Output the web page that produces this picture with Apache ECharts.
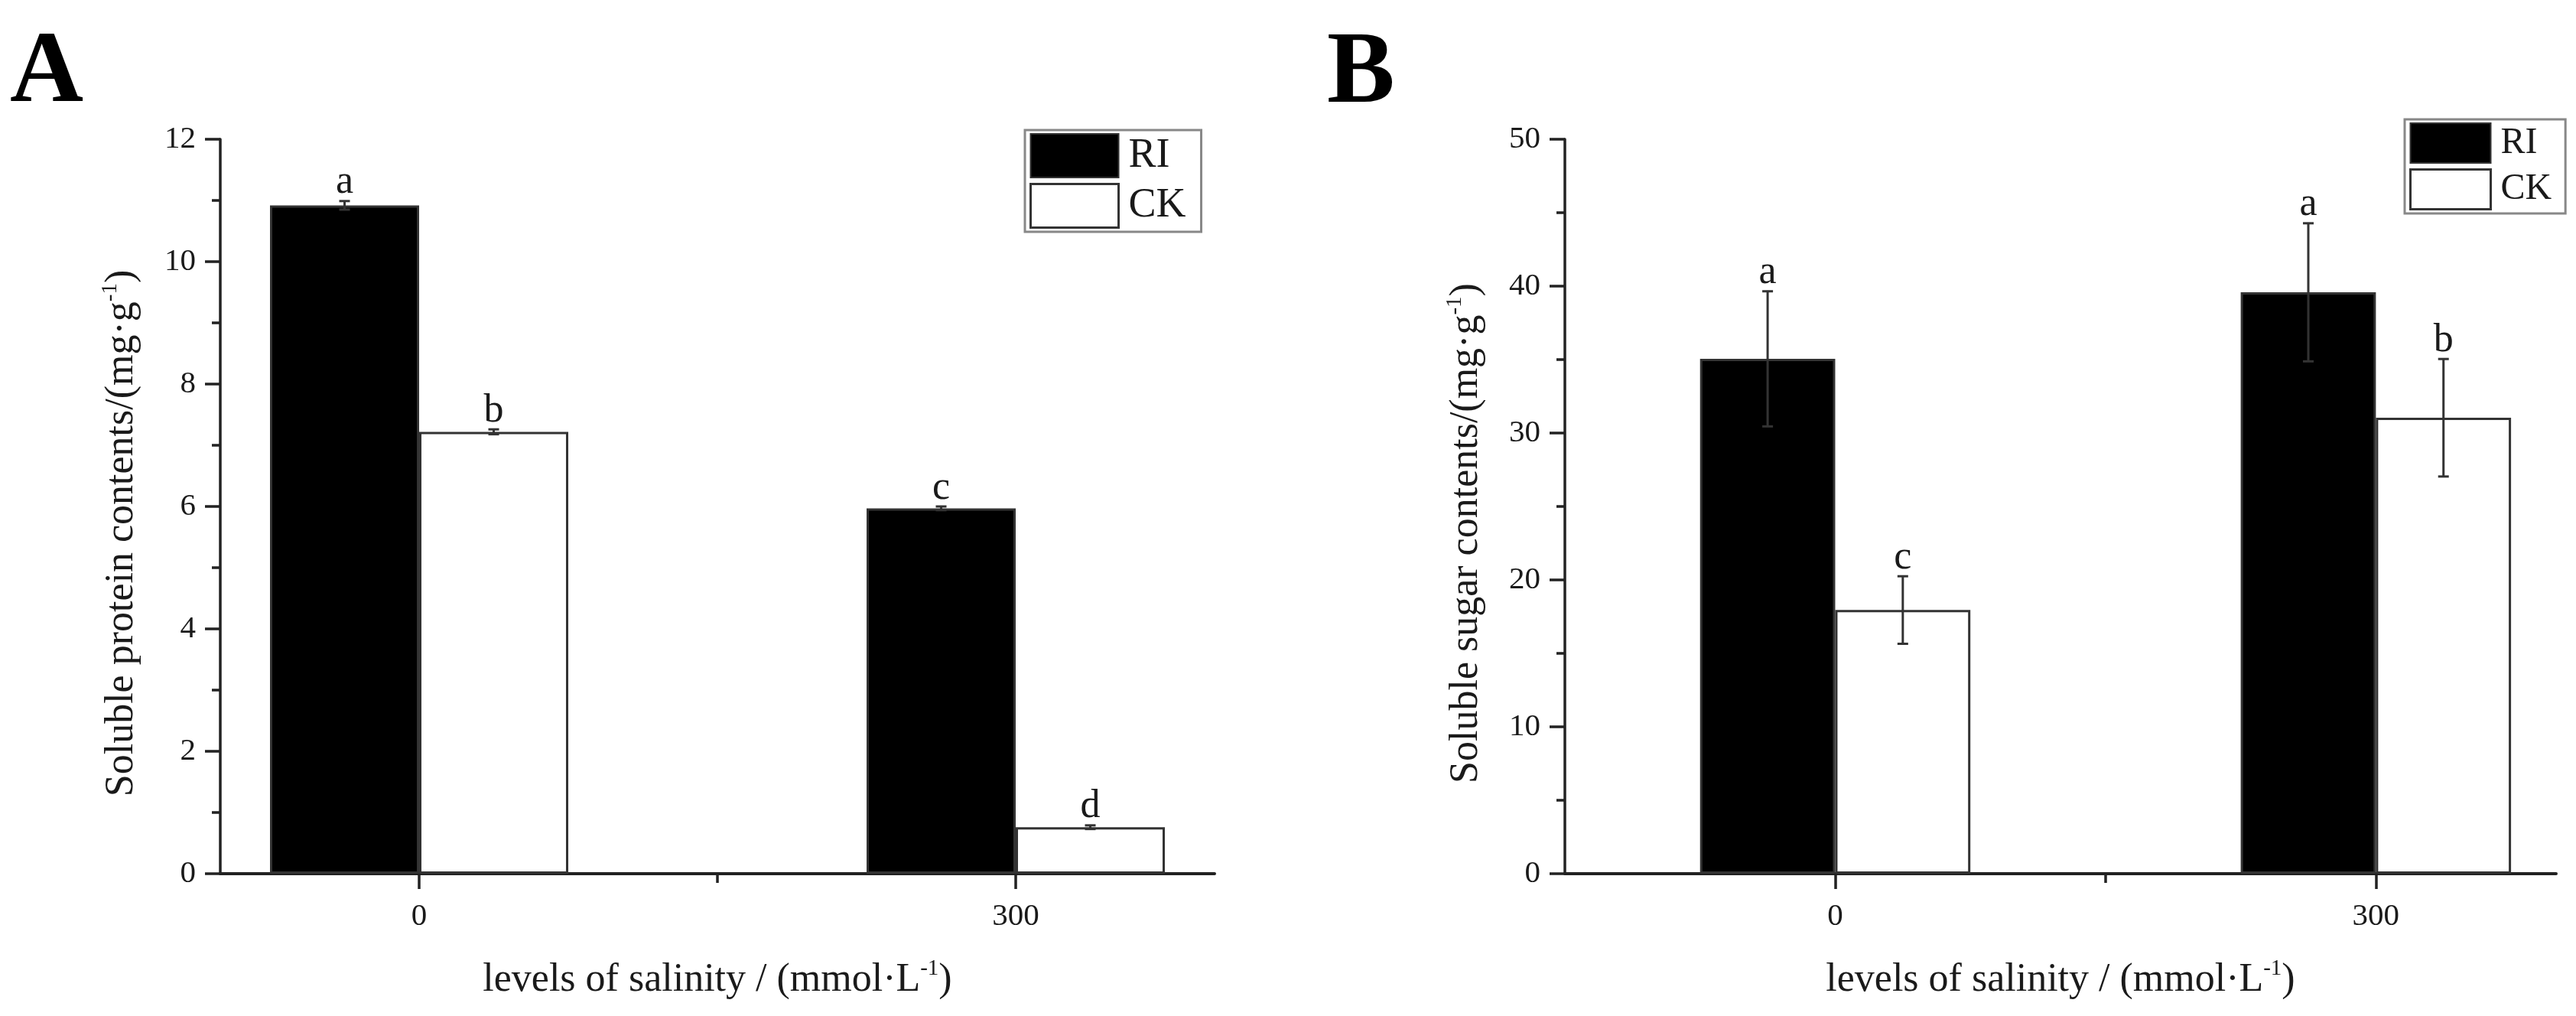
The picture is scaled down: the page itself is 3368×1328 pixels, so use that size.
<!DOCTYPE html>
<html><head><meta charset="utf-8">
<script src="https://cdn.jsdelivr.net/npm/echarts@6/dist/echarts.min.js"></script>
<style>html,body{margin:0;padding:0;background:#fff}#c{width:3368px;height:1328px}</style>
</head><body><div id="c"></div>
<script>
// ---- data ----
const salinityLevels = [0, 300];
const xTickLabels = [0, 300];
const xMinorTicks = [150];
const seriesNames = ['RI', 'CK'];
const proteinRI = [10.92, 5.97];
const proteinRIErr = [0.07, 0.03];
const proteinCK = [7.22, 0.76];
const proteinCKErr = [0.04, 0.03];
const proteinRILetters = ['a', 'c'];
const proteinCKLetters = ['b', 'd'];
const sugarRI = [35.05, 39.58];
const sugarRIErr = [4.6, 4.7];
const sugarCK = [17.95, 31.04];
const sugarCKErr = [2.3, 4.0];
const sugarRILetters = ['a', 'a'];
const sugarCKLetters = ['c', 'b'];

// ---- style ----
const FF = "'Liberation Serif', 'Times New Roman', serif";
const INK = '#1a1a1a';
const AX = '#222';
const BAR_FRAC = 0.25;

const chart = echarts.init(document.getElementById('c'), null, {renderer: 'canvas'});

function pairs(means) { return salinityLevels.map((x, i) => [x, means[i]]); }

function errSeries(xi, yi, means, errs, letters, side) {
  const gap = salinityLevels[1] - salinityLevels[0];
  const half = gap * BAR_FRAC / 2;
  return {
    type: 'custom', xAxisIndex: xi, yAxisIndex: yi, z: 5, silent: true,
    data: pairs(means),
    renderItem(params, api) {
      const i = params.dataIndex;
      const x = api.value(0) + side * half;
      const m = api.value(1), e = errs[i];
      const top = api.coord([x, m + e]);
      const bot = api.coord([x, m - e]);
      const cap = 7;
      const ls = {stroke: '#333', lineWidth: 3};
      return {
        type: 'group',
        children: [
          {type: 'line', shape: {x1: top[0], y1: top[1], x2: bot[0], y2: bot[1]}, style: ls},
          {type: 'line', shape: {x1: top[0] - cap, y1: top[1], x2: top[0] + cap, y2: top[1]}, style: ls},
          {type: 'line', shape: {x1: bot[0] - cap, y1: bot[1], x2: bot[0] + cap, y2: bot[1]}, style: ls},
          {type: 'text', x: top[0], y: top[1] + 2,
           style: {text: letters[i], fill: INK, font: '52px ' + FF, align: 'center', verticalAlign: 'bottom'}}
        ]
      };
    }
  };
}

function barSeries(name, xi, yi, means, fill, border) {
  return {
    name, type: 'bar', xAxisIndex: xi, yAxisIndex: yi,
    data: pairs(means),
    barWidth: (BAR_FRAC * 100) + '%', barGap: '0%',
    itemStyle: {color: fill, borderColor: border, borderWidth: 3},
    emphasis: {disabled: true}, z: 2
  };
}

const supRich = {sup: {fontSize: 29, lineHeight: 29, verticalAlign: 'top', fontFamily: FF, color: INK}};

function xAxes(grid, min, max) {
  return [{
    type: 'value', gridIndex: grid, min, max, position: 'bottom',
    name: 'levels of salinity / (mmol·L{sup|-1})', nameLocation: 'middle', nameGap: 110,
    nameTextStyle: {fontFamily: FF, fontSize: 52, color: INK, lineHeight: 58, rich: supRich},
    axisLine: {show: true, onZero: false, lineStyle: {color: AX, width: 4}},
    axisTick: {show: true, customValues: xTickLabels, length: 20, lineStyle: {color: AX, width: 3.5}},
    axisLabel: {show: true, customValues: xTickLabels, margin: 36, fontFamily: FF, fontSize: 41, color: INK},
    splitLine: {show: false}
  }, {
    type: 'value', gridIndex: grid, min, max, position: 'bottom',
    axisLine: {show: false, onZero: false},
    axisTick: {show: true, customValues: xMinorTicks, length: 12, lineStyle: {color: AX, width: 3.5}},
    axisLabel: {show: false}, splitLine: {show: false}
  }];
}

function yAxis(grid, max, interval, title) {
  return {
    type: 'value', gridIndex: grid, min: 0, max, interval,
    name: title, nameLocation: 'middle', nameGap: 100,
    nameTextStyle: {fontFamily: FF, fontSize: 52, color: INK, lineHeight: 58, padding: [0, 70, 0, 0], rich: supRich},
    axisLine: {show: true, onZero: false, lineStyle: {color: AX, width: 3.5}},
    axisTick: {show: true, length: 20, lineStyle: {color: AX, width: 3.5}},
    minorTick: {show: true, splitNumber: 2, length: 11, lineStyle: {color: AX, width: 3.5}},
    axisLabel: {margin: 32, fontFamily: FF, fontSize: 41, color: INK},
    splitLine: {show: false}
  };
}

function legend(left, top, w, h, fs, padR) {
  return {
    left, top, orient: 'vertical', icon: 'rect', itemWidth: w, itemHeight: h, itemGap: 6,
    borderColor: '#888', borderWidth: 3, padding: [4, padR, 4, 6], selectedMode: false,
    textStyle: {fontFamily: FF, fontSize: fs, color: INK, padding: [0, 0, 0, 8]},
    data: [
      {name: seriesNames[0], itemStyle: {color: '#000', borderColor: '#333', borderWidth: 2}},
      {name: seriesNames[1], itemStyle: {color: '#fff', borderColor: '#333', borderWidth: 3}}
    ]
  };
}

const option = {
  backgroundColor: '#fff',
  animation: false,
  grid: [
    {left: 288, top: 182, width: 1300, height: 960},
    {left: 2046, top: 182, width: 1296, height: 960}
  ],
  xAxis: [...xAxes(0, -100, 400), ...xAxes(1, -150, 400)],
  yAxis: [
    yAxis(0, 12, 2, 'Soluble protein contents/(mg·g{sup|-1})'),
    yAxis(1, 50, 10, 'Soluble sugar contents/(mg·g{sup|-1})')
  ],
  legend: [legend(1340, 170, 115, 57, 54, 20), legend(3144, 156, 105, 52, 48, 18)],
  series: [
    barSeries(seriesNames[0], 0, 0, proteinRI, '#000', '#333'),
    barSeries(seriesNames[1], 0, 0, proteinCK, '#fff', '#333'),
    errSeries(0, 0, proteinRI, proteinRIErr, proteinRILetters, -1),
    errSeries(0, 0, proteinCK, proteinCKErr, proteinCKLetters, 1),
    barSeries(seriesNames[0], 2, 1, sugarRI, '#000', '#333'),
    barSeries(seriesNames[1], 2, 1, sugarCK, '#fff', '#333'),
    errSeries(2, 1, sugarRI, sugarRIErr, sugarRILetters, -1),
    errSeries(2, 1, sugarCK, sugarCKErr, sugarCKLetters, 1)
  ],
  graphic: [
    {type: 'text', left: 13, top: 31, style: {text: 'A', font: 'bold 133px ' + FF, fill: '#000'}},
    {type: 'text', left: 1735, top: 32, style: {text: 'B', font: 'bold 133px ' + FF, fill: '#000'}}
  ]
};
chart.setOption(option);
</script>
</body></html>
